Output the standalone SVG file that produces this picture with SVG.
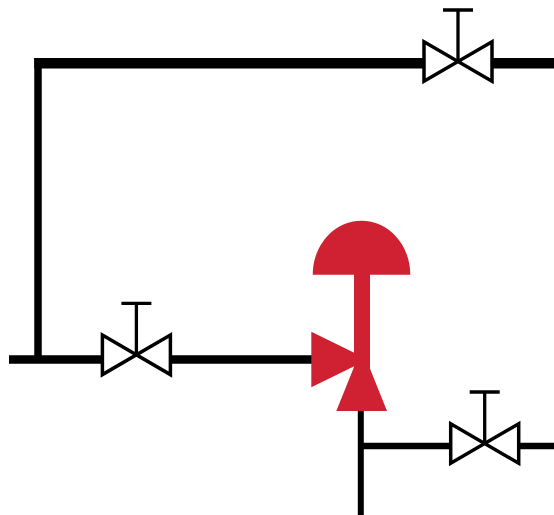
<svg xmlns="http://www.w3.org/2000/svg" width="554" height="515" viewBox="0 0 554 515">
<style>
.pipe{fill:none;stroke:#000;stroke-linecap:butt}
.body{fill:#fff;stroke:#000;stroke-width:3.5;stroke-miterlimit:10}
.stem{fill:none;stroke:#000;stroke-width:3.3}
.red{fill:#cf2132}
</style>
<defs>
<g id="valve">
<path class="body" d="M-34-19.800V19.800L34-19.800V19.800Z"/>
<path class="stem" d="M0 0V-51.500M-15-51.500H15"/>
</g>
</defs>
<rect width="554" height="515" fill="#fff"/>
<g id="connectors">
<path class="pipe" stroke-width="10.500" d="M34.300 63.200H424M492 63.200H554"/>
<path class="pipe" stroke-width="7.500" d="M38 58V360"/>
<path class="pipe" stroke-width="8.500" d="M9 359.500H103M170 359.500H314"/>
<path class="pipe" stroke-width="6" d="M360.800 408V515"/>
<path class="pipe" stroke-width="6.500" d="M360.800 446H451M519 446H554"/>
</g>
<g id="valve-top"><use href="#valve" x="458" y="61.500"/></g>
<g id="valve-left"><use href="#valve" x="136.400" y="354.800"/></g>
<g id="valve-right"><use href="#valve" x="484.700" y="443.500"/></g>
<g id="control-valve">
<path class="red" d="M312.700 274.700A48.800 54 0 0 1 410.300 274.700Z"/>
<rect class="red" x="354" y="274" width="16" height="95"/>
<path class="red" d="M311.300 331.700L368 359.500L311.300 387.300Z"/>
<path class="red" d="M361.700 348L387 411H336.300Z"/>
</g>
</svg>
